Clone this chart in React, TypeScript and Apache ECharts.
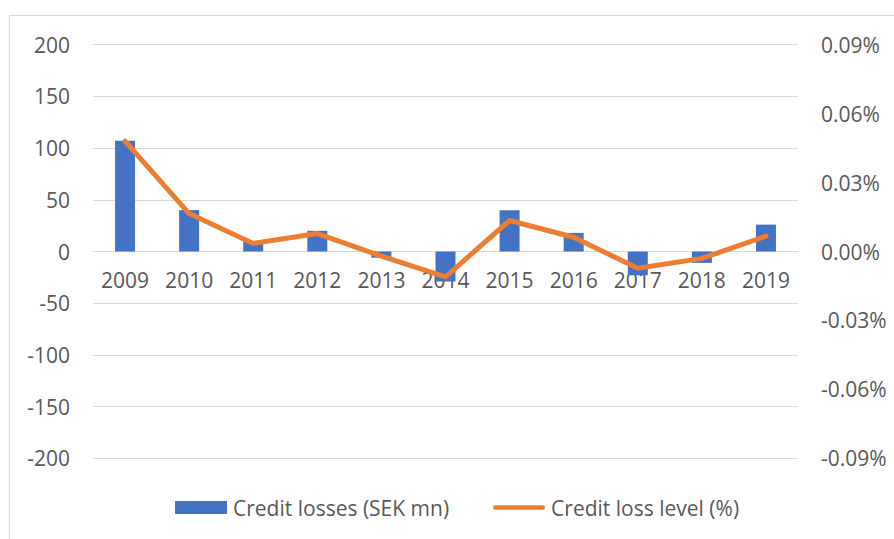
import React, { useEffect, useRef } from "react";
import * as echarts from "echarts";

const years = ["2009", "2010", "2011", "2012", "2013", "2014", "2015", "2016", "2017", "2018", "2019"];
const creditLosses = [107, 40, 10, 20, -6, -29, 40, 18, -23, -11, 26];
const creditLossLevel = [0.048, 0.0165, 0.0035, 0.0078, -0.002, -0.011, 0.0135, 0.0062, -0.0073, -0.003, 0.0067];
const leftTicks = { min: -200, max: 200, interval: 50 };
const rightTicks = { min: -0.09, max: 0.09, interval: 0.03 };

const FONT = "Open Sans";
const TEXT = "#595959";
const FS = 21;
const GRID_TOP = 44.7;
const GRID_BOTTOM = 80.7;
const PLOT_H = 539 - GRID_TOP - GRID_BOTTOM;

export default function App() {
  const ref = useRef<HTMLDivElement>(null);
  useEffect(() => {
    if (!ref.current) return;
    const chart = echarts.init(ref.current, null, { renderer: "svg" });
    chart.setOption({
      animation: false,
      backgroundColor: "#ffffff",
      textStyle: { fontFamily: FONT },
      graphic: [
        {
          type: "rect",
          shape: { x: 9.5, y: 15.5, width: 1000, height: 1000 },
          style: { fill: "none", stroke: "#D9D9D9", lineWidth: 1 },
          silent: true,
          z: -1,
        },
      ],
      grid: { left: 93, right: 96, top: GRID_TOP, bottom: GRID_BOTTOM, containLabel: false },
      legend: {
        left: 170,
        top: 492,
        itemWidth: 52,
        itemHeight: 13,
        itemGap: 44,
        textStyle: { fontFamily: FONT, fontSize: FS, color: TEXT, padding: [0, 0, 0, 1] },
        data: [
          { name: "Credit losses (SEK mn)", icon: "rect" },
          {
            name: "Credit loss level (%)",
            icon: "path://M2.5,0 H52.5 A2.5,2.5 0 0 1 52.5,5 H2.5 A2.5,2.5 0 0 1 2.5,0 Z",
          },
        ],
      },
      xAxis: {
        type: "category",
        data: years,
        position: "bottom",
        offset: -PLOT_H / 2,
        axisLine: { onZero: false, show: true, lineStyle: { color: "#D9D9D9", width: 1 } },
        axisTick: { show: false },
        axisLabel: { fontFamily: FONT, fontSize: FS, color: TEXT, margin: 18 },
      },
      yAxis: [
        {
          type: "value",
          min: leftTicks.min,
          max: leftTicks.max,
          interval: leftTicks.interval,
          axisLine: { show: false },
          axisTick: { show: false },
          splitLine: { lineStyle: { color: "#D9D9D9", width: 1 } },
          axisLabel: { fontFamily: FONT, fontSize: FS, color: TEXT, margin: 23 },
        },
        {
          type: "value",
          min: rightTicks.min,
          max: rightTicks.max,
          interval: rightTicks.interval,
          axisLine: { show: false, onZero: false },
          axisTick: { show: false },
          splitLine: { show: false },
          axisLabel: {
            fontFamily: FONT,
            fontSize: FS,
            color: TEXT,
            margin: 23,
            formatter: (v: number) => (Math.abs(v) < 1e-9 ? 0 : v).toFixed(2) + "%",
          },
        },
      ],
      series: [
        {
          name: "Credit losses (SEK mn)",
          type: "bar",
          data: creditLosses,
          barWidth: 20,
          itemStyle: { color: "#4472C4" },
          yAxisIndex: 0,
        },
        {
          name: "Credit loss level (%)",
          type: "line",
          data: creditLossLevel,
          yAxisIndex: 1,
          showSymbol: false,
          symbol: "none",
          lineStyle: { color: "#ED7D31", width: 5, cap: "round", join: "round" },
          itemStyle: { color: "#ED7D31" },
          z: 3,
        },
      ],
    });
    return () => chart.dispose();
  }, []);
  return (
    <div
      ref={ref}
      style={{ position: "fixed", left: 0, top: 0, width: 894, height: 539 }}
    />
  );
}
